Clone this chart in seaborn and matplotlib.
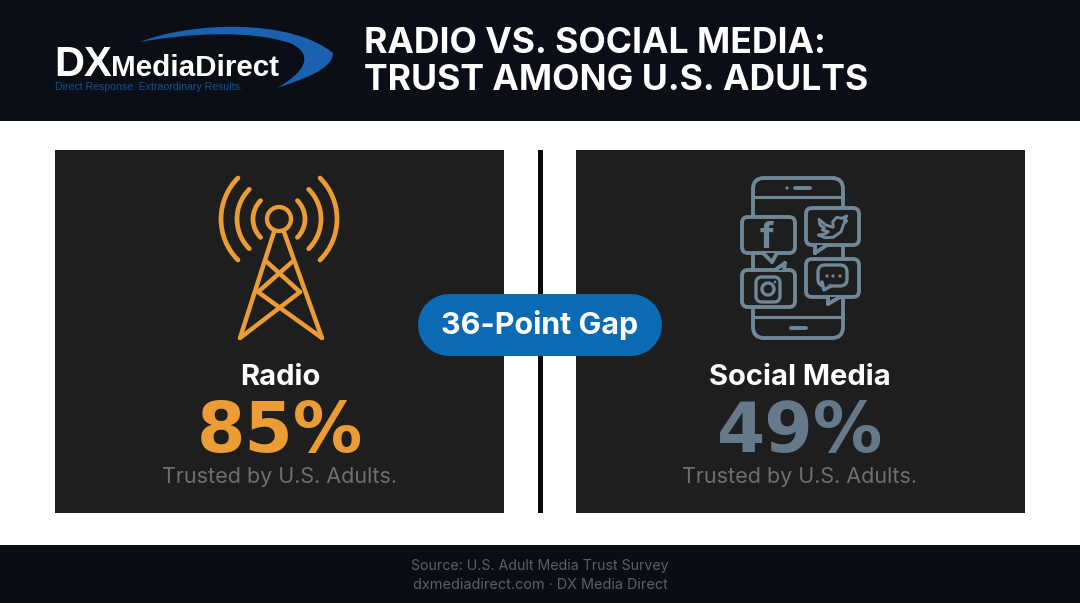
import matplotlib
matplotlib.use("Agg")
import matplotlib.pyplot as plt
from matplotlib.patches import Rectangle, FancyBboxPatch, Circle, Arc, PathPatch, Polygon
from matplotlib.path import Path
import seaborn as sns

# the chart's values
title_lines = ["RADIO VS. SOCIAL MEDIA:", "TRUST AMONG U.S. ADULTS"]
categories = ["Radio", "Social Media"]
trust_values = [85, 49]
sub_label = "Trusted by U.S. Adults."
gap_label = "36-Point Gap"
source_lines = ["Source: U.S. Adult Media Trust Survey", "dxmediadirect.com · DX Media Direct"]

sns.set_theme(style="white")
plt.rcParams['font.family'] = ['Inter', 'DejaVu Sans']
palette = sns.color_palette(["#eb9c34", "#66798a"])

HEADER = "#0b0e17"
FOOTER = "#0a0d16"
PANEL = "#1e1e1e"
BLUE = "#0a6ab3"
GREY = "#6f6f6f"
ICON = "#6f8797"

fig = plt.figure(figsize=(10.8, 6.03), dpi=100)
ax = fig.add_axes([0, 0, 1, 1])
# axes run in image pixels
ax.set_xlim(0, 1080)
ax.set_ylim(603, 0)
ax.axis("off")


def box(x0, y0, x1, y1, color, z=1):
    ax.add_patch(Rectangle((x0, y0), x1 - x0, y1 - y0, fc=color, ec="none", zorder=z))


def line(xs, ys, color, lw=3.2, z=3):
    ax.plot(xs, ys, color=color, lw=lw, solid_capstyle="round", solid_joinstyle="round", zorder=z)


box(0, 0, 1080, 603, "white", 0)
box(0, 0, 1080, 121, HEADER)
box(0, 545, 1080, 603, FOOTER)
box(55, 150, 504, 513, PANEL)
box(576, 150, 1025, 513, PANEL)
box(537.5, 150, 542.5, 513, "#0a0a0a")

# logo
swoosh = Path(
    [(140, 42), (190, 22), (290, 18), (333, 53), (333, 70), (300, 80), (277, 88),
     (312, 68), (310, 52), (290, 43), (250, 30), (190, 33), (140, 42), (140, 42)],
    [Path.MOVETO, Path.CURVE4, Path.CURVE4, Path.CURVE4, Path.CURVE4, Path.CURVE4, Path.CURVE4,
     Path.CURVE4, Path.CURVE4, Path.CURVE4, Path.CURVE4, Path.CURVE4, Path.CURVE4, Path.CLOSEPOLY])
ax.add_patch(PathPatch(swoosh, fc="#1a62b0", ec="none", zorder=2))
logo_font = ['Liberation Sans']
ax.text(54, 76, "DX", color="white", fontsize=30, fontweight="bold", family=logo_font, va="baseline", zorder=4)
ax.text(111, 76, "MediaDirect", color="white", fontsize=21.3, fontweight="bold", family=logo_font, va="baseline", zorder=4)
ax.text(55, 90, "Direct Response. Extraordinary Results.", color="#14508c", fontsize=7.6,
        family=logo_font, va="baseline", zorder=4)

# title
ax.text(364, 53, title_lines[0], color="white", fontsize=25.6, fontweight="bold", va="baseline")
ax.text(364, 90.5, title_lines[1], color="white", fontsize=25.6, fontweight="bold", va="baseline")

# radio tower icon
orange = palette[0]
ax.add_patch(Circle((279, 219), 12, fc="none", ec=orange, lw=3.1, zorder=3))
for r in [26, 42, 58]:
    for t0, t1 in [(135, 225), (-45, 45)]:
        ax.add_patch(Arc((279, 219), 2 * r, 2 * r, theta1=t0, theta2=t1, ec=orange, lw=3.4,
                         capstyle="round", zorder=3))
line([274, 240], [232, 338], orange)
line([284, 322], [232, 338], orange)
line([240, 300], [338, 292], orange)
line([322, 258], [338, 292], orange)
line([300, 267], [292, 262], orange)
line([258, 292], [292, 262], orange)


# social icon
def bubble(x0, y0, x1, y1, tail):
    ax.add_patch(FancyBboxPatch((x0 + 6, y0 + 6), x1 - x0 - 12, y1 - y0 - 12, boxstyle="round,pad=6,rounding_size=6",
                                fc=PANEL, ec=ICON, lw=2.8, zorder=4))
    xs = [p[0] for p in tail]
    ys = [p[1] for p in tail]
    # the tail opens the bubble's outline
    ax.add_patch(Polygon(tail, closed=True, fc=PANEL, ec="none", zorder=4.5))
    line(xs[:2], ys[:2], ICON, 2.8, 4.6)
    line(xs[1:3], ys[1:3], ICON, 2.8, 4.6)


ax.add_patch(FancyBboxPatch((763, 188), 70, 140, boxstyle="round,pad=10,rounding_size=11",
                            fc="none", ec=ICON, lw=2.8, zorder=3))
line([754, 843], [197, 197], ICON, 2.2)
line([754, 843], [317, 317], ICON, 2.2)
line([795, 810], [188, 188], ICON, 2.8)
line([791, 806], [328, 328], ICON, 2.8)
ax.add_patch(Circle((787, 188), 1.6, fc=ICON, ec="none", zorder=3))

bubble(742, 217, 795, 253, [(763, 253), (772, 262), (777, 253)])
bubble(806, 208, 859, 245, [(815, 245), (815, 253), (827, 245)])
bubble(742, 270, 795, 307, [(775, 270), (785, 263), (784, 270)])
bubble(806, 259, 859, 297, [(828, 297), (828, 304), (840, 297)])

ax.text(767, 248, "f", color=ICON, fontsize=26, fontweight="bold", ha="center", va="baseline", zorder=6)

# twitter bird
bird = Polygon(
    [(819, 219.3), (825.7, 225), (833.3, 227.3), (832.7, 221.7), (836.7, 217.3), (841.7, 218.3), (846.7, 216),
     (844.3, 220.7), (846.7, 220.7), (843.7, 224), (841, 231.7), (833.3, 237.3), (825, 237.7), (818.3, 235),
     (825, 234), (828.3, 231.7), (822.3, 230), (824.3, 228), (820, 225)],
    closed=True, fc="none", ec=ICON, lw=2.1, joinstyle="round", zorder=6)
ax.add_patch(bird)

# instagram glyph
ax.add_patch(FancyBboxPatch((761, 282), 14, 15, boxstyle="round,pad=5,rounding_size=6", fc="none", ec=ICON, lw=2.4, zorder=6))
ax.add_patch(Circle((768, 289), 6, fc="none", ec=ICON, lw=2.4, zorder=6))
ax.add_patch(Circle((775, 282), 1.4, fc=ICON, ec="none", zorder=6))

# chat glyph
ax.add_patch(FancyBboxPatch((825, 272), 15, 7, boxstyle="round,pad=7,rounding_size=7", fc=PANEL, ec=ICON, lw=2.4, zorder=6))
ax.add_patch(Polygon([(822, 282), (824, 290), (831, 286)], closed=True, fc=PANEL, ec="none", zorder=6.1))
line([822, 824, 831], [282, 290, 286], ICON, 2.4, 6.2)
for x in [827, 833, 840]:
    ax.add_patch(Circle((x, 276), 1.6, fc=ICON, ec="none", zorder=6.3))

# panel text
for cx, name, value, color in zip([280, 800], categories, trust_values, palette):
    ax.text(cx, 385, name, color="white", fontsize=21, fontweight="bold", ha="center", va="baseline", zorder=5)
    ax.text(cx, 452, f"{value}%", color=color, fontsize=50, fontweight="bold", family=['DejaVu Sans'],
            ha="center", va="baseline", zorder=5)
    ax.text(cx, 483, sub_label, color=GREY, fontsize=15.5, ha="center", va="baseline", zorder=5)

# gap pill, a thick round capped line
ax.plot([449, 631], [325, 325], color=BLUE, lw=44.6, solid_capstyle="round", zorder=6)
ax.text(540, 334, gap_label, color="white", fontsize=21.9, fontweight="bold", ha="center", va="baseline", zorder=7)

# footer
ax.text(540, 570, source_lines[0], color="#5c5f66", fontsize=10.2, ha="center", va="baseline")
ax.text(540, 589, source_lines[1], color="#5c5f66", fontsize=10.4, ha="center", va="baseline")

fig.savefig("out.png", dpi=100)
